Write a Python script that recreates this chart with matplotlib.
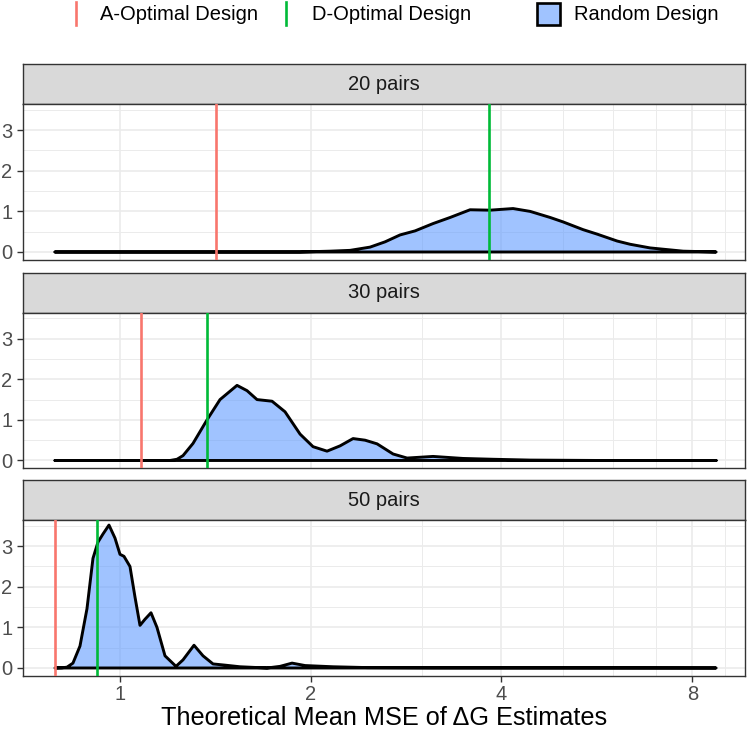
import numpy as np
import matplotlib
matplotlib.use("Agg")
import matplotlib.pyplot as plt
from matplotlib.patches import Rectangle
from matplotlib.lines import Line2D

plt.rcParams['font.family'] = ['Liberation Sans', 'DejaVu Sans']

# facets
panels = ["20 pairs", "30 pairs", "50 pairs"]

# optimal designs (theoretical mean MSE)
a_opt = [1.4175, 1.0793, 0.7896]
d_opt = [3.8240, 1.3719, 0.9198]

# random design densities
mse_20 = [0.7896, 1.9239, 2.1452, 2.3071, 2.4811, 2.6201, 2.7668, 2.9221, 3.1193,
          3.3184, 3.5685, 3.8378, 4.1720, 4.4386, 4.7737, 5.0044, 5.3811, 5.6620,
          6.0889, 6.3839, 6.8650, 7.7403, 8.7255]
dens_20 = [0, 0, 0.02, 0.04, 0.12, 0.25, 0.42, 0.52, 0.70, 0.85, 1.04, 1.03, 1.07,
           1.0, 0.85, 0.74, 0.55, 0.44, 0.27, 0.19, 0.1, 0.02, 0]

mse_30 = [0.7896, 1.1993, 1.2302, 1.2574, 1.3039, 1.3719, 1.4383, 1.5300, 1.5867,
          1.6454, 1.7376, 1.8215, 1.9239, 2.0168, 2.1220, 2.2248, 2.3324, 2.4364,
          2.5450, 2.6975, 2.8382, 3.1193, 3.4790, 3.8794, 4.4386, 5.7240, 8.7255]
dens_30 = [0, 0, 0.03, 0.12, 0.42, 1.0, 1.5, 1.85, 1.72, 1.5, 1.46, 1.2, 0.65, 0.34,
           0.23, 0.36, 0.54, 0.5, 0.41, 0.16, 0.06, 0.1, 0.05, 0.03, 0.01, 0, 0]

mse_50 = [0.7896, 0.8099, 0.8248, 0.8429, 0.8647, 0.8870, 0.9065, 0.9231, 0.9401,
          0.9608, 0.9820, 1.0, 1.0146, 1.0370, 1.0560, 1.0754, 1.0951, 1.1193,
          1.1439, 1.1777, 1.2257, 1.2574, 1.3086, 1.3521, 1.4022, 1.4647, 1.5468,
          1.7063, 1.7888, 1.8686, 1.9591, 2.1689, 2.4542, 3.1193, 8.7255]
dens_50 = [0, 0.005, 0.02, 0.12, 0.54, 1.46, 2.7, 3.1, 3.3, 3.52, 3.2, 2.8, 2.75,
           2.5, 1.75, 1.05, 1.2, 1.36, 1.0, 0.3, 0.04, 0.2, 0.56, 0.3, 0.1, 0.07,
           0.03, 0.0, 0.04, 0.12, 0.06, 0.03, 0.01, 0.005, 0]

curves = [(mse_20, dens_20), (mse_30, dens_30), (mse_50, dens_50)]

x_major = [1, 2, 4, 8]
x_minor = [3, 5, 6, 7, 9]
y_major = [0, 1, 2, 3]
y_minor = [0.5, 1.5, 2.5, 3.5]

red = '#F8766D'
green = '#00BA38'
blue = '#619CFF'

W, H = 750, 731
fig = plt.figure(figsize=(W / 100, H / 100), dpi=100)

def rect(left, top, right, bottom):
    return [left / W, 1 - bottom / H, (right - left) / W, (bottom - top) / H]

xlim = (0.703, 9.69)

left, right = 23, 745
strip_tops = [64, 272.5, 480]
strip_h, panel_h = 40, 155.5

for i, name in enumerate(panels):
    st = strip_tops[i]
    # strip
    sax = fig.add_axes(rect(left, st, right, st + strip_h))
    sax.set_xticks([]); sax.set_yticks([])
    sax.set_facecolor('#D9D9D9')
    for s in sax.spines.values():
        s.set_color('#333333'); s.set_linewidth(1.0)
    sax.text(0.5, 0.5, name, ha='center', va='center', fontsize=14.5,
             color='#1A1A1A', transform=sax.transAxes)

    ax = fig.add_axes(rect(left, st + strip_h, right, st + strip_h + panel_h))
    ax.set_xscale('log', base=2)
    ax.set_xlim(*xlim)
    ax.set_ylim(-0.185, 3.645)
    ax.set_xticks(x_major)
    ax.set_xticks(x_minor, minor=True)
    ax.set_yticks(y_major)
    ax.set_yticks(y_minor, minor=True)
    ax.set_yticklabels([str(v) for v in y_major])
    if i == 2:
        ax.set_xticklabels([str(v) for v in x_major])
        ax.tick_params(axis='x', which='major', length=4.5, width=1.0,
                       color='#333333', labelsize=14.5, labelcolor='#4D4D4D', pad=2)
        ax.set_xlabel("Theoretical Mean MSE of \u0394G Estimates", fontsize=18.2,
                      labelpad=1.5)
    else:
        ax.set_xticklabels([])
        ax.tick_params(axis='x', which='major', length=0)
    ax.tick_params(axis='both', which='minor', length=0, labelleft=False, labelbottom=False)
    ax.tick_params(axis='y', which='major', length=4.5, width=1.0, color='#333333',
                   labelsize=14.5, labelcolor='#4D4D4D', pad=3)

    ax.set_axisbelow(True)
    ax.grid(which='major', color='#EBEBEB', lw=1.2)
    ax.grid(which='minor', color='#EBEBEB', lw=0.7)
    for s in ax.spines.values():
        s.set_color('#333333'); s.set_linewidth(1.0)

    xs, ys = curves[i]
    ax.fill(xs, ys, facecolor=blue, alpha=0.6, edgecolor='none', zorder=2)
    ax.fill(xs, ys, facecolor='none', edgecolor='black', lw=2.1, zorder=3,
            joinstyle='round')
    ax.axvline(a_opt[i], color=red, lw=1.9, zorder=4)
    ax.axvline(d_opt[i], color=green, lw=1.9, zorder=4)

# legend across the top
lax = fig.add_axes([0, 0, 1, 1])
lax.set_xlim(0, W); lax.set_ylim(H, 0)
lax.axis('off')
lax.add_line(Line2D([75.6, 75.6], [2, 25], color=red, lw=1.9))
lax.text(100, 14, "A-Optimal Design", fontsize=14.5, va='center', ha='left')
lax.add_line(Line2D([285.6, 285.6], [2, 25], color=green, lw=1.9))
lax.text(312, 14, "D-Optimal Design", fontsize=14.5, va='center', ha='left')
lax.add_patch(Rectangle((537, 3), 23, 22, facecolor=blue, alpha=0.6, edgecolor='none'))
lax.add_patch(Rectangle((537, 3), 23, 22, facecolor='none', edgecolor='black', lw=1.9))
lax.text(574, 14, "Random Design", fontsize=14.5, va='center', ha='left')

fig.savefig("out.png", dpi=100)
